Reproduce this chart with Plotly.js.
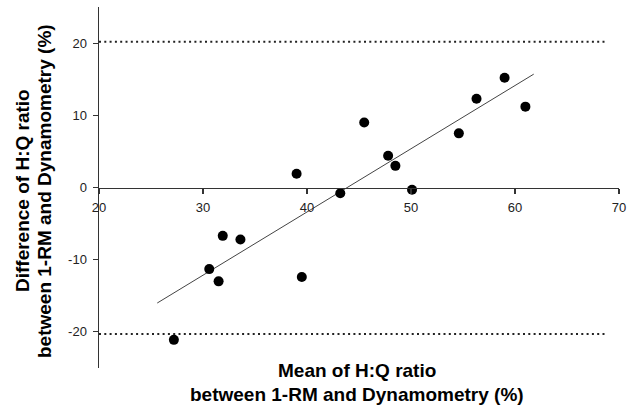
<!DOCTYPE html>
<html>
<head>
<meta charset="utf-8">
<script src="https://cdn.plot.ly/plotly-3.0.1.min.js"></script>
<style>html,body{margin:0;padding:0;background:#fff;}#chart{width:636px;height:408px;}</style>
</head>
<body>
<div id="chart"></div>
<script>
// Data
var meanRatio = [27.2, 30.6, 31.5, 31.9, 33.6, 39.0, 39.5, 43.2, 45.5, 47.8, 48.5, 50.1, 54.6, 56.3, 59.0, 61.0];
var diffRatio = [-21.1, -11.3, -13.0, -6.7, -7.2, 1.9, -12.4, -0.8, 9.0, 4.4, 3.0, -0.3, 7.5, 12.3, 15.2, 11.2];
var fitX = [25.6, 61.8];
var fitY = [-16.0, 15.7];
var limitX = [20, 68.7];
var upperLimit = [20.2, 20.2];
var lowerLimit = [-20.3, -20.3];
var xTicks = [20, 30, 40, 50, 60, 70];
var yTicks = [-20, -10, 0, 10, 20];
var xTitle = ["Mean of H:Q ratio", "between 1-RM and Dynamometry (%)"];
var yTitle = ["Difference of H:Q ratio", "between 1-RM and Dynamometry (%)"];

var font = "Liberation Sans, Arial, sans-serif";
var traces = [
  {x: limitX, y: upperLimit, mode: "lines", line: {color: "#222", width: 2, dash: "2px,3.3px"}, hoverinfo: "skip"},
  {x: limitX, y: lowerLimit, mode: "lines", line: {color: "#222", width: 2, dash: "2px,3.3px"}, hoverinfo: "skip"},
  {x: fitX, y: fitY, mode: "lines", line: {color: "#444", width: 1}, hoverinfo: "skip"},
  {x: meanRatio, y: diffRatio, mode: "markers", marker: {color: "#000", size: 10}}
];

var W = 636, H = 408, L = 99, R = 17, T = 7, B = 40;
function px(X) { return (X - L) / (W - L - R); }
function py(Y) { return (H - B - Y) / (H - T - B); }

var titleFont = {family: font, size: 19, color: "#000"};
var annotations = [
  {text: "<b>" + xTitle[0] + "</b>", xref: "paper", yref: "paper", x: px(357), y: py(371), xanchor: "center", yanchor: "middle", showarrow: false, font: titleFont},
  {text: "<b>" + xTitle[1] + "</b>", xref: "paper", yref: "paper", x: px(357), y: py(394), xanchor: "center", yanchor: "middle", showarrow: false, font: titleFont},
  {text: "<b>" + yTitle[0] + "</b>", xref: "paper", yref: "paper", x: px(22), y: py(191), xanchor: "center", yanchor: "middle", textangle: -90, showarrow: false, font: titleFont},
  {text: "<b>" + yTitle[1] + "</b>", xref: "paper", yref: "paper", x: px(44), y: py(191), xanchor: "center", yanchor: "middle", textangle: -90, showarrow: false, font: titleFont}
];

var layout = {
  width: W, height: H,
  margin: {l: L, r: R, t: T, b: B, pad: 0},
  paper_bgcolor: "#fff", plot_bgcolor: "#fff",
  showlegend: false,
  font: {family: font, size: 13, color: "#222"},
  xaxis: {
    range: [20, 70], tickvals: xTicks, ticktext: xTicks.map(String),
    anchor: "free", position: 0.5,
    showline: true, linecolor: "#333", linewidth: 1.5,
    ticks: "outside", ticklen: 5, tickwidth: 1.2, tickcolor: "#333",
    showgrid: false, zeroline: false, ticklabelstandoff: 2,
    tickfont: {family: font, size: 13, color: "#222"}
  },
  yaxis: {
    range: [-25, 25], tickvals: yTicks, ticktext: yTicks.map(String),
    showline: true, linecolor: "#333", linewidth: 1.5,
    ticks: "outside", ticklen: 5, tickwidth: 1.2, tickcolor: "#333",
    showgrid: false, zeroline: false, ticklabelstandoff: 3,
    tickfont: {family: font, size: 13, color: "#222"}
  },
  annotations: annotations
};

Plotly.newPlot("chart", traces, layout, {displayModeBar: false, staticPlot: true});
</script>
</body>
</html>
